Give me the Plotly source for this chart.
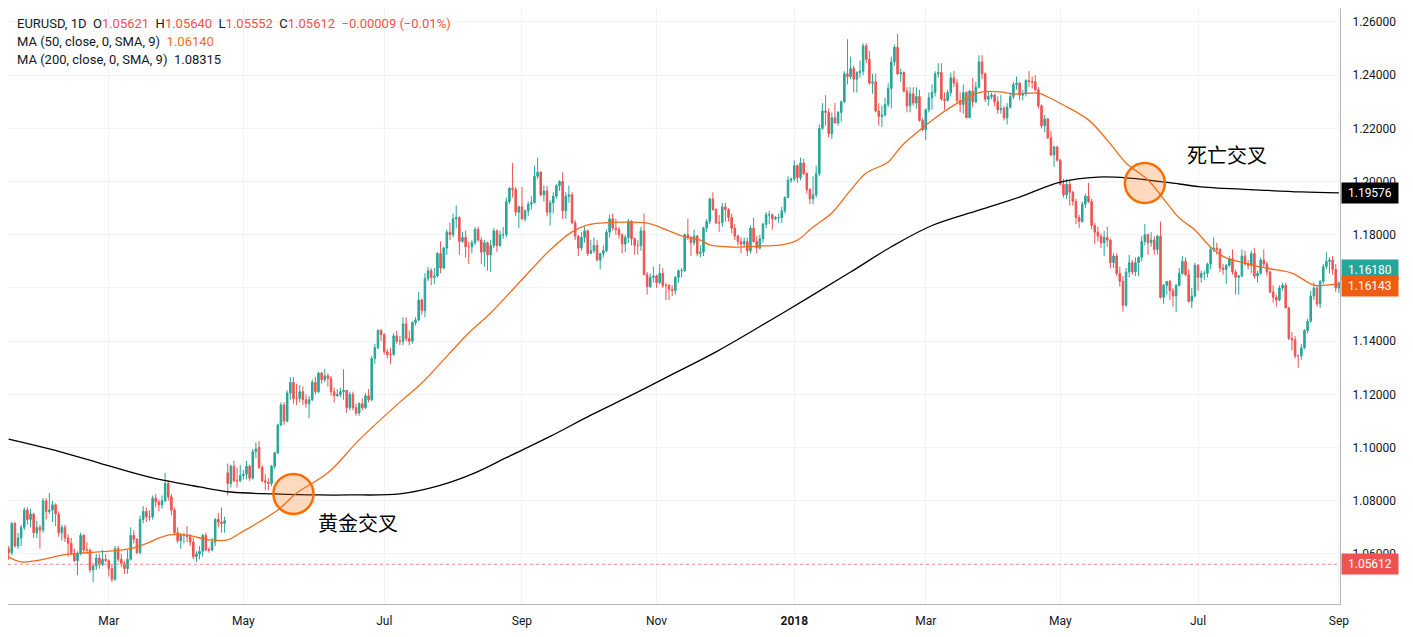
import pandas as pd
import plotly.graph_objects as go

# ---------------- data (prices in 1e-4 units) ----------------
start_date = "2017-01-16"
end_date = "2018-09-03"

opens = [
    # 2017-01
    10620,10605,10715,10630,10660,10700,10765,10730,10750,10680,10700,10690,
    # 2017-02
    10800,10760,10765,10785,10750,10680,10700,10660,10640,10600,10575,10600,10670,10615,10615,10540,10555,10585,10560,10580,
    # 2017-03
    10575,10545,10505,10620,10580,10565,10545,10580,10670,10655,10605,10730,10760,10740,10740,10810,10795,10785,10800,10865,10815,10765,10680,
    # 2017-04
    10650,10670,10670,10665,10645,10590,10600,10610,10670,10615,10615,10645,10730,10720,10715,10905,10865,10930,10875,10875,
    # 2017-05
    10895,10900,10930,10885,10985,11000,10925,10875,10870,10865,10930,10980,11085,11160,11100,11205,11245,11185,11185,11210,11180,11165,11180,
    # 2017-06
    11245,11210,11280,11255,11270,11260,11210,11195,11200,11210,11215,11150,11200,11150,11130,11165,11150,11195,11180,11335,11375,11440,
    # 2017-07
    11425,11360,11350,11350,11420,11400,11400,11465,11410,11400,11470,11480,11555,11515,11635,11665,11640,11645,11730,11675,11750,
    # 2017-08
    11810,11800,11860,11865,11775,11790,11755,11755,11770,11820,11780,11735,11770,11725,11760,11815,11760,11800,11800,11925,11975,11970,11885,
    # 2017-09
    11905,11860,11890,11915,11920,12020,12035,11950,11965,11885,11920,11945,11985,12000,11890,11945,11950,11845,11795,11750,11790,
    # 2017-10
    11815,11730,11740,11760,11705,11730,11740,11810,11860,11825,11820,11800,11765,11790,11850,11785,11760,11760,11815,11650,11605,11640,
    # 2017-11
    11645,11620,11655,11610,11610,11595,11590,11640,11665,11665,11800,11790,11770,11795,11730,11735,11825,11850,11935,11895,11845,11845,
    # 2017-12
    11905,11895,11865,11825,11795,11775,11765,11775,11740,11825,11775,11750,11785,11840,11875,11875,11860,11865,11865,11890,11940,
    # 2018-01
    12005,12010,12060,12015,12070,12030,11970,11935,11950,12030,12200,12265,12260,12180,12240,12220,12260,12300,12405,12395,12425,12385,12410,
    # 2018-02
    12415,12510,12460,12370,12375,12265,12245,12250,12290,12350,12450,12505,12405,12410,12340,12285,12330,12295,12320,12230,
    # 2018-03
    12195,12270,12315,12335,12405,12410,12310,12305,12335,12390,12370,12305,12290,12335,12240,12340,12300,12355,12450,12405,12310,12320,
    # 2018-04
    12325,12300,12270,12275,12240,12280,12320,12365,12370,12325,12330,12380,12375,12375,12345,12285,12210,12235,12165,12100,12130,
    # 2018-05
    12080,11990,11950,11990,11960,11925,11865,11850,11915,11945,11925,11835,11810,11795,11770,11790,11780,11695,11720,11655,11625,11535,11660,
    # 2018-06
    11695,11660,11695,11715,11775,11800,11770,11780,11745,11795,11565,11610,11625,11590,11570,11610,11655,11700,11650,11550,11570,
    # 2018-07
    11685,11640,11655,11655,11690,11745,11750,11745,11675,11670,11685,11710,11660,11640,11645,11720,11690,11685,11730,11645,11655,11705,
    # 2018-08
    11690,11660,11585,11565,11555,11600,11610,11525,11410,11405,11345,11345,11375,11440,11475,11570,11600,11540,11625,11680,11700,11705,11670,
    # 2018-09
    11600,
]

highs = [
    10630,10720,10720,10680,10710,10775,10775,10770,10755,10725,10710,10810,
    10810,10830,10800,10790,10760,10710,10710,10675,10660,10620,10610,10680,10675,10645,10620,10565,10600,10600,10615,10600,
    10580,10560,10630,10630,10600,10575,10615,10700,10690,10660,10745,10780,10775,10765,10820,10825,10805,10820,10905,10875,10825,10775,10700,
    10680,10680,10705,10675,10660,10610,10630,10675,10680,10625,10660,10735,10755,10775,10740,10940,10935,10950,10925,10935,
    10915,10950,10935,10995,11020,11025,10935,10900,10885,10935,10985,11090,11170,11170,11215,11265,11265,11240,11235,11230,11200,11195,11255,
    11265,11285,11285,11295,11280,11270,11225,11220,11225,11295,11215,11210,11210,11165,11170,11185,11205,11220,11345,11390,11445,11445,
    11430,11370,11375,11430,11440,11420,11490,11490,11440,11475,11490,11585,11560,11655,11680,11675,11675,11735,11775,11755,11820,
    11845,11880,11910,11870,11810,11815,11775,11780,11830,11830,11790,11780,11775,11780,11825,11820,11815,11830,11940,11980,12070,11980,11910,
    11980,11895,11925,11945,12060,12090,12040,11985,11985,11930,11960,11990,12005,12035,11960,11985,11960,11855,11800,11810,11830,
    11820,11780,11790,11780,11730,11760,11820,11875,11880,11860,11830,11805,11800,11860,11855,11790,11780,11830,11880,11660,11655,11680,
    11650,11690,11675,11620,11615,11610,11645,11670,11675,11805,11860,11795,11820,11800,11760,11830,11860,11940,11960,11900,11875,11920,
    11920,11900,11880,11840,11800,11790,11790,11790,11835,11865,11795,11800,11845,11885,11890,11880,11870,11880,11905,11945,12020,
    12015,12080,12065,12090,12085,12035,11975,12020,12060,12215,12295,12325,12275,12260,12295,12265,12305,12415,12535,12470,12435,12415,12455,
    12520,12520,12490,12405,12405,12295,12285,12315,12370,12470,12515,12555,12425,12415,12355,12355,12355,12355,12345,12240,
    12275,12335,12365,12415,12445,12445,12335,12345,12410,12415,12385,12335,12365,12340,12345,12390,12375,12475,12475,12410,12340,12335,
    12330,12320,12325,12285,12295,12335,12375,12395,12375,12345,12385,12415,12395,12400,12355,12290,12250,12240,12190,12135,12135,
    12085,12010,12010,12005,11965,11935,11875,11925,11955,11995,11935,11845,11830,11805,11815,11830,11785,11730,11730,11680,11645,11675,11725,
    11705,11715,11720,11795,11840,11805,11810,11795,11800,11850,11615,11625,11630,11600,11615,11675,11720,11715,11670,11600,11695,
    11690,11665,11665,11695,11755,11790,11770,11750,11690,11690,11720,11745,11670,11650,11745,11740,11705,11740,11750,11665,11715,11745,
    11700,11665,11610,11575,11610,11620,11620,11530,11435,11420,11350,11390,11445,11485,11590,11620,11610,11630,11690,11735,11715,11720,11690,
    11625,
]

lows = [
    10578,10595,10625,10620,10630,10690,10710,10700,10660,10660,10620,10680,
    10730,10750,10720,10705,10665,10650,10645,10590,10600,10570,10520,10595,10600,10600,10530,10494,10540,10545,10555,10570,
    10515,10495,10500,10570,10550,10525,10525,10575,10640,10600,10600,10715,10720,10725,10730,10775,10760,10770,10795,10800,10745,10675,10640,
    10620,10640,10645,10630,10580,10570,10580,10590,10610,10605,10610,10630,10700,10680,10680,10820,10850,10870,10850,10870,
    10880,10880,10875,10880,10960,10920,10870,10840,10840,10855,10920,10975,11080,11085,11095,11180,11165,11160,11170,11160,11150,11110,11175,
    11200,11205,11240,11245,11230,11195,11170,11190,11190,11180,11130,11140,11140,11120,11120,11140,11145,11170,11175,11315,11370,11400,
    11350,11335,11315,11345,11390,11385,11385,11400,11385,11390,11460,11475,11500,11490,11625,11610,11615,11640,11655,11670,11725,
    11780,11790,11825,11725,11770,11715,11690,11730,11760,11775,11690,11680,11665,11660,11750,11735,11755,11785,11790,11915,11940,11870,11825,
    11855,11850,11870,11895,11920,12010,11945,11925,11870,11835,11880,11935,11965,11860,11860,11920,11840,11780,11720,11740,11770,
    11720,11730,11730,11700,11670,11715,11735,11790,11815,11800,11785,11730,11735,11770,11760,11725,11725,11740,11650,11575,11600,11620,
    11600,11615,11600,11555,11555,11570,11575,11620,11640,11660,11780,11720,11760,11720,11715,11720,11810,11840,11890,11840,11810,11830,
    11850,11850,11805,11780,11760,11730,11755,11720,11730,11770,11730,11745,11770,11825,11840,11820,11855,11845,11845,11880,11940,
    11995,12000,11995,12005,12025,11955,11915,11915,11940,12020,12195,12210,12165,12160,12220,12210,12225,12295,12365,12385,12335,12335,12390,
    12400,12445,12365,12330,12260,12210,12205,12245,12280,12275,12435,12400,12375,12335,12260,12260,12285,12275,12225,12190,
    12155,12260,12270,12320,12390,12305,12270,12300,12320,12355,12295,12260,12255,12240,12240,12280,12295,12350,12385,12300,12285,12310,
    12285,12255,12255,12230,12215,12275,12310,12345,12305,12305,12320,12355,12350,12340,12275,12200,12185,12160,12095,12055,12075,
    11985,11940,11935,11910,11910,11840,11825,11845,11900,11920,11820,11765,11775,11750,11720,11755,11675,11675,11645,11605,11510,11530,11640,
    11650,11645,11645,11700,11760,11725,11755,11725,11725,11560,11540,11575,11555,11530,11510,11605,11650,11645,11545,11525,11565,
    11590,11620,11630,11640,11670,11735,11725,11660,11650,11615,11680,11650,11575,11575,11640,11685,11670,11655,11635,11620,11650,11680,
    11645,11580,11545,11530,11550,11590,11525,11405,11365,11335,11300,11330,11370,11430,11470,11555,11530,11525,11615,11670,11655,11650,11585,
    11580,
]

closes = [
    10605,10715,10630,10660,10700,10765,10730,10750,10680,10700,10690,10800,
    10760,10765,10785,10750,10680,10700,10660,10640,10600,10575,10600,10670,10615,10615,10540,10555,10585,10560,10580,10575,
    10545,10505,10620,10580,10565,10545,10580,10670,10655,10605,10730,10760,10740,10740,10810,10795,10785,10800,10865,10815,10765,10680,10650,
    10670,10670,10665,10645,10590,10600,10610,10670,10615,10615,10645,10730,10720,10715,10725,10865,10930,10875,10875,10895,
    10900,10930,10885,10985,10995,10925,10875,10870,10865,10930,10980,11085,11160,11100,11205,11245,11185,11185,11210,11180,11165,11180,11245,
    11210,11280,11255,11270,11260,11210,11195,11200,11210,11215,11150,11200,11150,11130,11165,11150,11195,11180,11335,11375,11440,11425,
    11360,11350,11350,11420,11400,11400,11465,11410,11400,11470,11480,11555,11515,11635,11665,11640,11645,11730,11675,11750,11810,
    11800,11860,11865,11775,11790,11755,11755,11770,11820,11780,11735,11770,11725,11760,11815,11760,11800,11800,11925,11975,11970,11885,11905,
    11860,11890,11915,11920,12020,12035,11950,11965,11885,11920,11945,11985,12000,11890,11945,11950,11845,11795,11750,11790,11815,
    11730,11740,11760,11705,11730,11740,11810,11860,11825,11820,11800,11765,11790,11850,11785,11760,11760,11815,11650,11605,11640,11645,
    11620,11655,11610,11610,11595,11590,11640,11665,11665,11800,11790,11770,11795,11730,11735,11825,11850,11935,11895,11845,11845,11905,
    11895,11865,11825,11795,11775,11765,11775,11740,11825,11775,11750,11785,11840,11875,11875,11860,11865,11865,11890,11940,12005,
    12010,12060,12015,12070,12030,11970,11935,11950,12030,12200,12265,12260,12180,12240,12220,12260,12300,12405,12395,12425,12385,12410,12415,
    12510,12460,12370,12375,12265,12245,12250,12290,12350,12450,12505,12405,12410,12340,12285,12330,12295,12320,12230,12195,
    12270,12315,12335,12405,12410,12310,12305,12335,12390,12370,12305,12290,12335,12240,12340,12300,12355,12450,12405,12310,12320,12325,
    12300,12270,12275,12240,12280,12320,12365,12370,12325,12330,12380,12375,12375,12345,12285,12210,12235,12165,12100,12130,12080,
    11990,11950,11990,11960,11925,11865,11850,11915,11945,11925,11835,11810,11795,11770,11790,11780,11695,11720,11655,11625,11535,11660,11695,
    11660,11695,11715,11775,11800,11770,11780,11745,11795,11565,11610,11625,11590,11570,11610,11655,11700,11650,11550,11570,11685,
    11640,11655,11655,11690,11745,11750,11745,11675,11670,11685,11710,11660,11640,11645,11720,11690,11685,11730,11645,11655,11705,11690,
    11660,11585,11565,11555,11600,11610,11525,11410,11405,11345,11345,11375,11440,11475,11570,11600,11540,11625,11680,11700,11705,11670,11600,
    11618,
]

ma50_dates = ["2017-01-16","2017-01-20","2017-01-30","2017-02-08","2017-02-17","2017-02-24","2017-03-13","2017-03-28",
              "2017-04-05","2017-04-14","2017-04-24","2017-04-28","2017-05-16","2017-05-24","2017-06-07","2017-06-21",
              "2017-07-10","2017-07-19","2017-08-09","2017-08-18","2017-08-31","2017-09-14","2017-09-25","2017-10-02",
              "2017-10-06","2017-10-27","2017-11-02","2017-11-14","2017-11-21","2017-11-24","2017-12-05","2017-12-19",
              "2017-12-27","2018-01-03","2018-01-10","2018-01-18","2018-01-26","2018-02-02","2018-02-13","2018-02-19",
              "2018-02-26","2018-03-06","2018-03-13","2018-03-20","2018-03-27","2018-04-04","2018-04-10","2018-04-20",
              "2018-04-25","2018-05-02","2018-05-14","2018-05-22","2018-05-30","2018-06-08","2018-06-18","2018-06-22",
              "2018-06-29","2018-07-06","2018-07-13","2018-07-23","2018-07-30","2018-08-06","2018-08-13","2018-08-22",
              "2018-08-28","2018-09-03"]
ma50_values = [1.0589,1.0570,1.0577,1.0596,1.0604,1.0608,1.0623,1.0671,
               1.0671,1.0653,1.0653,1.0679,1.0765,1.0829,1.0905,1.1029,
               1.1171,1.1243,1.1431,1.1506,1.1619,1.1743,1.1811,1.1837,
               1.1844,1.1844,1.1829,1.1792,1.1780,1.1762,1.1754,1.1758,
               1.1762,1.1780,1.1829,1.1882,1.1968,1.2032,1.2074,1.2130,
               1.2183,1.2239,1.2280,1.2314,1.2337,1.2337,1.2329,1.2333,
               1.2318,1.2288,1.2232,1.2156,1.2070,1.2006,1.1920,1.1863,
               1.1818,1.1754,1.1713,1.1694,1.1679,1.1668,1.1656,1.1611,
               1.1611,1.16143]

ma200_dates = ["2017-01-16","2017-02-02","2017-02-24","2017-03-20","2017-04-11","2017-04-25","2017-05-15","2017-06-02",
               "2017-06-16","2017-07-10","2017-07-26","2017-08-11","2017-08-25","2017-09-14","2017-10-03","2017-10-20",
               "2017-11-08","2017-11-28","2017-12-18","2018-01-08","2018-01-26","2018-02-14","2018-03-05","2018-03-26",
               "2018-04-12","2018-05-01","2018-05-17","2018-05-31","2018-06-22","2018-07-03","2018-07-30","2018-08-16",
               "2018-09-03"]
ma200_values = [1.1032,1.0995,1.0942,1.0889,1.0852,1.0833,1.0826,1.0822,
                1.0822,1.0826,1.0855,1.0905,1.0962,1.1042,1.1122,1.1197,
                1.1275,1.1360,1.1455,1.1560,1.1660,1.1755,1.1835,1.1893,
                1.1942,1.1998,1.2017,1.2013,1.1991,1.1980,1.1968,1.1961,
                1.19576]

tick_dates = ["2017-03-01","2017-05-01","2017-07-03","2017-09-01","2017-11-01",
              "2018-01-02","2018-03-01","2018-05-01","2018-07-02","2018-09-03"]
tick_labels = ["Mar","May","Jul","Sep","Nov","<b>2018</b>","Mar","May","Jul","Sep"]

price_ticks = [1.06,1.08,1.10,1.12,1.14,1.16,1.18,1.20,1.22,1.24,1.26]
hidden_price_ticks = [1.16]   # covered by the value boxes in the reference

header_symbol = "EURUSD, 1D"
header_ohlc = ["1.05621","1.05640","1.05552","1.05612"]
header_change = "−0.00009 (−0.01%)"
ma50_name = "MA (50, close, 0, SMA, 9)"
ma50_last = "1.06140"
ma200_name = "MA (200, close, 0, SMA, 9)"
ma200_last = "1.08315"

current_price = 1.05612
last_close = 1.16180
ma50_end = 1.16143
ma200_end = 1.19576

golden_cross = ("2017-05-23", 1.0826, "黄金交叉")
death_cross = ("2018-06-07", 1.1995, "死亡交叉")

# ---------------- styling / layout ----------------
UP = "#26a69a"
DOWN = "#ef5350"
ORANGE = "#f26b1f"
ORANGE_LABEL = "#ef5d12"
GRID = "#f0f3fa"
TXT = "#131722"
AXISLINE = "#b2b5be"

# page body has an 8px margin; the plot area spans page x 8..1340, y 8..604
PW, PH = 1332, 596


def px_x(page_x):
    return (page_x - 8) / PW


def px_y(page_y):
    return (604 - page_y) / PH


dates = pd.bdate_range(start_date, end_date)
n = min(len(dates), len(closes), len(opens), len(highs), len(lows))
pos = {d.strftime("%Y-%m-%d"): i for i, d in enumerate(dates[:n])}
xs = list(range(n))

fig = go.Figure()
fig.add_trace(go.Candlestick(
    x=xs,
    open=[v / 1e4 for v in opens[:n]],
    high=[v / 1e4 for v in highs[:n]],
    low=[v / 1e4 for v in lows[:n]],
    close=[v / 1e4 for v in closes[:n]],
    increasing=dict(line=dict(color=UP, width=1), fillcolor=UP),
    decreasing=dict(line=dict(color=DOWN, width=1), fillcolor=DOWN),
    whiskerwidth=0,
    hoverinfo="skip",
))
fig.add_trace(go.Scatter(
    x=[pos[d] for d in ma200_dates], y=ma200_values, mode="lines",
    line=dict(color="#000000", width=1.3, shape="spline", smoothing=1.0),
    hoverinfo="skip",
))
fig.add_trace(go.Scatter(
    x=[pos[d] for d in ma50_dates], y=ma50_values, mode="lines",
    line=dict(color=ORANGE, width=1.3, shape="spline", smoothing=1.0),
    hoverinfo="skip",
))

# current price dotted line
fig.add_shape(type="line", xref="paper", x0=0, x1=1, yref="y", y0=current_price, y1=current_price,
              line=dict(color="#f28b8b", width=1, dash="dot"), layer="above")

# cross circles
for d, p, _ in (golden_cross, death_cross):
    fig.add_shape(type="circle", xref="x", yref="y", xsizemode="pixel", ysizemode="pixel",
                  xanchor=pos[d], yanchor=p, x0=-20, x1=20, y0=-20, y1=20,
                  line=dict(color="#ff6d00", width=2.5), fillcolor="rgba(255,109,0,0.25)", layer="above")

annotations = []
# cross labels
cjk_font = dict(family="Noto Sans CJK SC", size=20, color="#000000")
annotations.append(dict(xref="paper", yref="paper", x=px_x(358), y=px_y(522), text=golden_cross[2],
                        showarrow=False, xanchor="center", yanchor="middle", font=cjk_font))
annotations.append(dict(xref="paper", yref="paper", x=px_x(1227), y=px_y(155), text=death_cross[2],
                        showarrow=False, xanchor="center", yanchor="middle", font=cjk_font))

# header legend
sp = "\u00a0"


def red(s):
    return f"<span style='color:{DOWN}'>{s}</span>"


line1 = (f"{header_symbol}{sp}{sp}O{red(header_ohlc[0])}{sp}{sp}H{red(header_ohlc[1])}{sp}{sp}"
         f"L{red(header_ohlc[2])}{sp}{sp}C{red(header_ohlc[3] + sp + sp + header_change)}")
line2 = f"{ma50_name}{sp}{sp}<span style='color:{ORANGE}'>{ma50_last}</span>"
line3 = f"{ma200_name}{sp}{sp}{ma200_last}"
for txt, page_y in ((line1, 23), (line2, 42), (line3, 60)):
    annotations.append(dict(xref="paper", yref="paper", x=px_x(15), y=px_y(page_y), text=txt,
                            showarrow=False, xanchor="left", yanchor="middle",
                            font=dict(family="Roboto, 'Noto Sans', sans-serif", size=13, color=TXT)))

# price axis value boxes
for val, bg, ysh in ((ma200_end, "#000000", 0), (last_close, UP, 13), (ma50_end, ORANGE_LABEL, -2),
                     (current_price, DOWN, 0)):
    annotations.append(dict(xref="paper", yref="y", x=1, y=val, xshift=1, yshift=ysh, xanchor="left",
                            yanchor="middle", text=f"{sp}{val:.5f}{sp}", showarrow=False, bgcolor=bg,
                            borderpad=3, font=dict(family="Roboto, sans-serif", size=12, color="#ffffff")))

fig.update_layout(
    width=1405, height=629,
    margin=dict(l=0, r=73, t=0, b=33),
    paper_bgcolor="white", plot_bgcolor="white",
    showlegend=False,
    font=dict(family="Roboto, 'Noto Sans', sans-serif", size=12, color=TXT),
    annotations=annotations,
    xaxis=dict(range=[-0.2, 425.35], tickmode="array", tickvals=[pos[d] for d in tick_dates],
               ticktext=tick_labels, showgrid=True, gridcolor=GRID, gridwidth=1, showline=True,
               linecolor=AXISLINE, linewidth=1, ticks="", zeroline=False,
               rangeslider=dict(visible=False), fixedrange=True, ticklabelstandoff=6,
               tickfont=dict(size=12, color=TXT)),
    yaxis=dict(side="right", range=[1.04120, 1.26526], tickmode="array", tickvals=price_ticks,
               ticktext=["" if v in hidden_price_ticks else f"{v:.5f}" for v in price_ticks],
               showgrid=True, gridcolor=GRID, gridwidth=1,
               showline=True, linecolor=AXISLINE, linewidth=1, ticks="", zeroline=False,
               ticklabelstandoff=9, tickfont=dict(size=12, color=TXT)),
)

fig.write_html("out.html")
